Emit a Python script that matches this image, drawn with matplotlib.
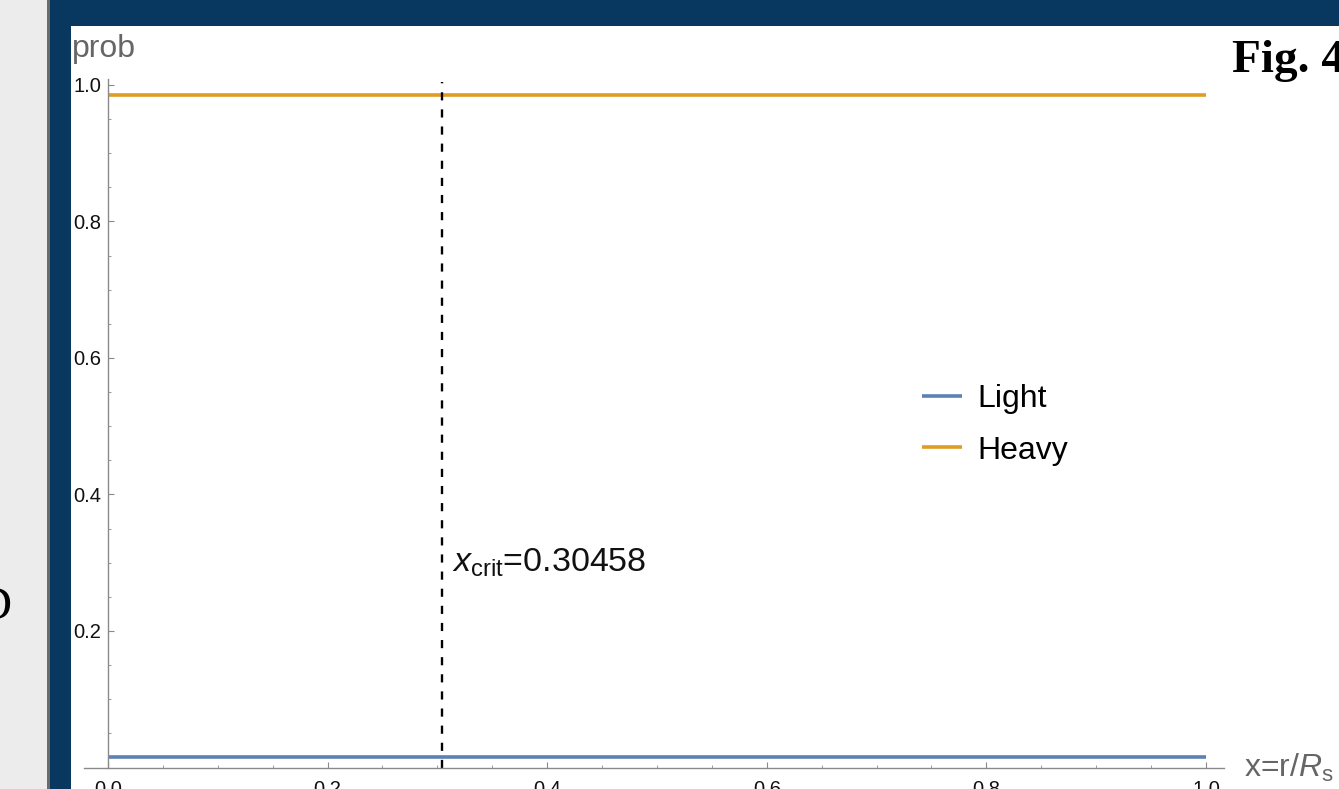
import matplotlib
matplotlib.use("Agg")
import matplotlib.pyplot as plt
from matplotlib.patches import Rectangle
from matplotlib.ticker import FixedLocator, MultipleLocator

# ---- data -------------------------------------------------------------
x_vals = [0.0, 1.0]
light_prob = [0.015, 0.015]
heavy_prob = [0.985, 0.985]
x_crit = 0.30458
x_ticks = [0.0, 0.2, 0.4, 0.6, 0.8, 1.0]
y_ticks = [0.2, 0.4, 0.6, 0.8, 1.0]
series_labels = ["Light", "Heavy"]
series_colors = ["#5e81b5", "#e19c24"]

# ---- style ------------------------------------------------------------
plt.rcParams['font.family'] = ['Liberation Sans', 'DejaVu Sans']
plt.rcParams['mathtext.fontset'] = 'custom'
plt.rcParams['mathtext.rm'] = 'Liberation Sans'
plt.rcParams['mathtext.it'] = 'Liberation Sans:italic'
plt.rcParams['mathtext.bf'] = 'Liberation Sans:bold'

W, H = 1339, 789
fig = plt.figure(figsize=(W / 100, H / 100), dpi=100)


def px_rect(x0, y0, w, h):
    """Pixel box (from top-left) -> figure fraction rect."""
    return (x0 / W, 1 - (y0 + h) / H, w / W, h / H)


# slide background: grey margin, navy frame, white plot card
bg = fig.add_axes([0, 0, 1, 1])
bg.axis('off')
bg.set_xlim(0, W)
bg.set_ylim(H, 0)
bg.add_patch(Rectangle((0, 0), 47, H, color='#ececec', lw=0))
bg.add_patch(Rectangle((47, 0), 3, H, color='#6b6b6b', lw=0))
bg.add_patch(Rectangle((50, 0), W - 50, H, color='#08375f', lw=0))
bg.add_patch(Rectangle((71, 26), W - 71, H - 26, color='white', lw=0))
bg.text(12, 608, "D", fontsize=34, family='Liberation Serif',
        ha='right', va='center', color='black')
bg.text(1232, 61, "Fig. 4", fontsize=34, family='Liberation Serif',
        weight='bold', ha='left', va='center', color='black')

# ---- plot -------------------------------------------------------------
ax = fig.add_axes(px_rect(84.4, 79.5, 1140, 688))
ax.patch.set_alpha(0)
ax.set_xlim(-0.0215, 1.0168)
ax.set_ylim(0, 1.008)

for yv, lab, col in zip([light_prob, heavy_prob], series_labels, series_colors):
    ax.plot(x_vals, yv, color=col, lw=2.6, label=lab, solid_capstyle='butt')

ax.axvline(x_crit, color='black', lw=1.7, dashes=(3.45, 3.8), ymax=0.996)
ax.annotate(r"$x_{\mathrm{crit}}$=%.5f" % x_crit, xy=(x_crit, 0.30),
            xytext=(7, 0), textcoords='offset points',
            fontsize=24.5, ha='left', va='center', color='#111111')

grey = '#8a8a8a'
for side in ('top', 'right'):
    ax.spines[side].set_visible(False)
ax.spines['left'].set_position(('data', 0))
ax.spines['left'].set_color(grey)
ax.spines['bottom'].set_color(grey)
ax.spines['left'].set_linewidth(1.0)
ax.spines['bottom'].set_linewidth(1.0)

ax.xaxis.set_major_locator(FixedLocator(x_ticks))
ax.yaxis.set_major_locator(FixedLocator(y_ticks))
ax.xaxis.set_minor_locator(MultipleLocator(0.05))
ax.yaxis.set_minor_locator(MultipleLocator(0.05))
ax.set_xticklabels([f"{v:.1f}" for v in x_ticks])
ax.set_yticklabels([f"{v:.1f}" for v in y_ticks])
ax.tick_params(which='both', direction='in', color=grey, labelcolor='#111111',
               labelsize=14.5)
ax.tick_params(which='major', length=4.5, width=0.8)
ax.tick_params(which='minor', length=2.5, width=0.6)
ax.tick_params(axis='y', pad=5)
ax.tick_params(axis='x', pad=9)

ax.text(-0.0325, 1.052, "prob", transform=ax.transData, fontsize=23,
        color='#666666', ha='left', va='center')
ax.text(1.035, 0.0, r"x=r/$R_{\mathrm{s}}$", transform=ax.transData,
        fontsize=23, color='#666666', ha='left', va='center', clip_on=False)

ax.legend(loc='upper left', bbox_to_anchor=(0.7235, 0.5763), frameon=False,
          fontsize=23, handlelength=1.25, handletextpad=0.5,
          labelspacing=0.68, borderaxespad=0)

fig.savefig("out.png", dpi=100)
